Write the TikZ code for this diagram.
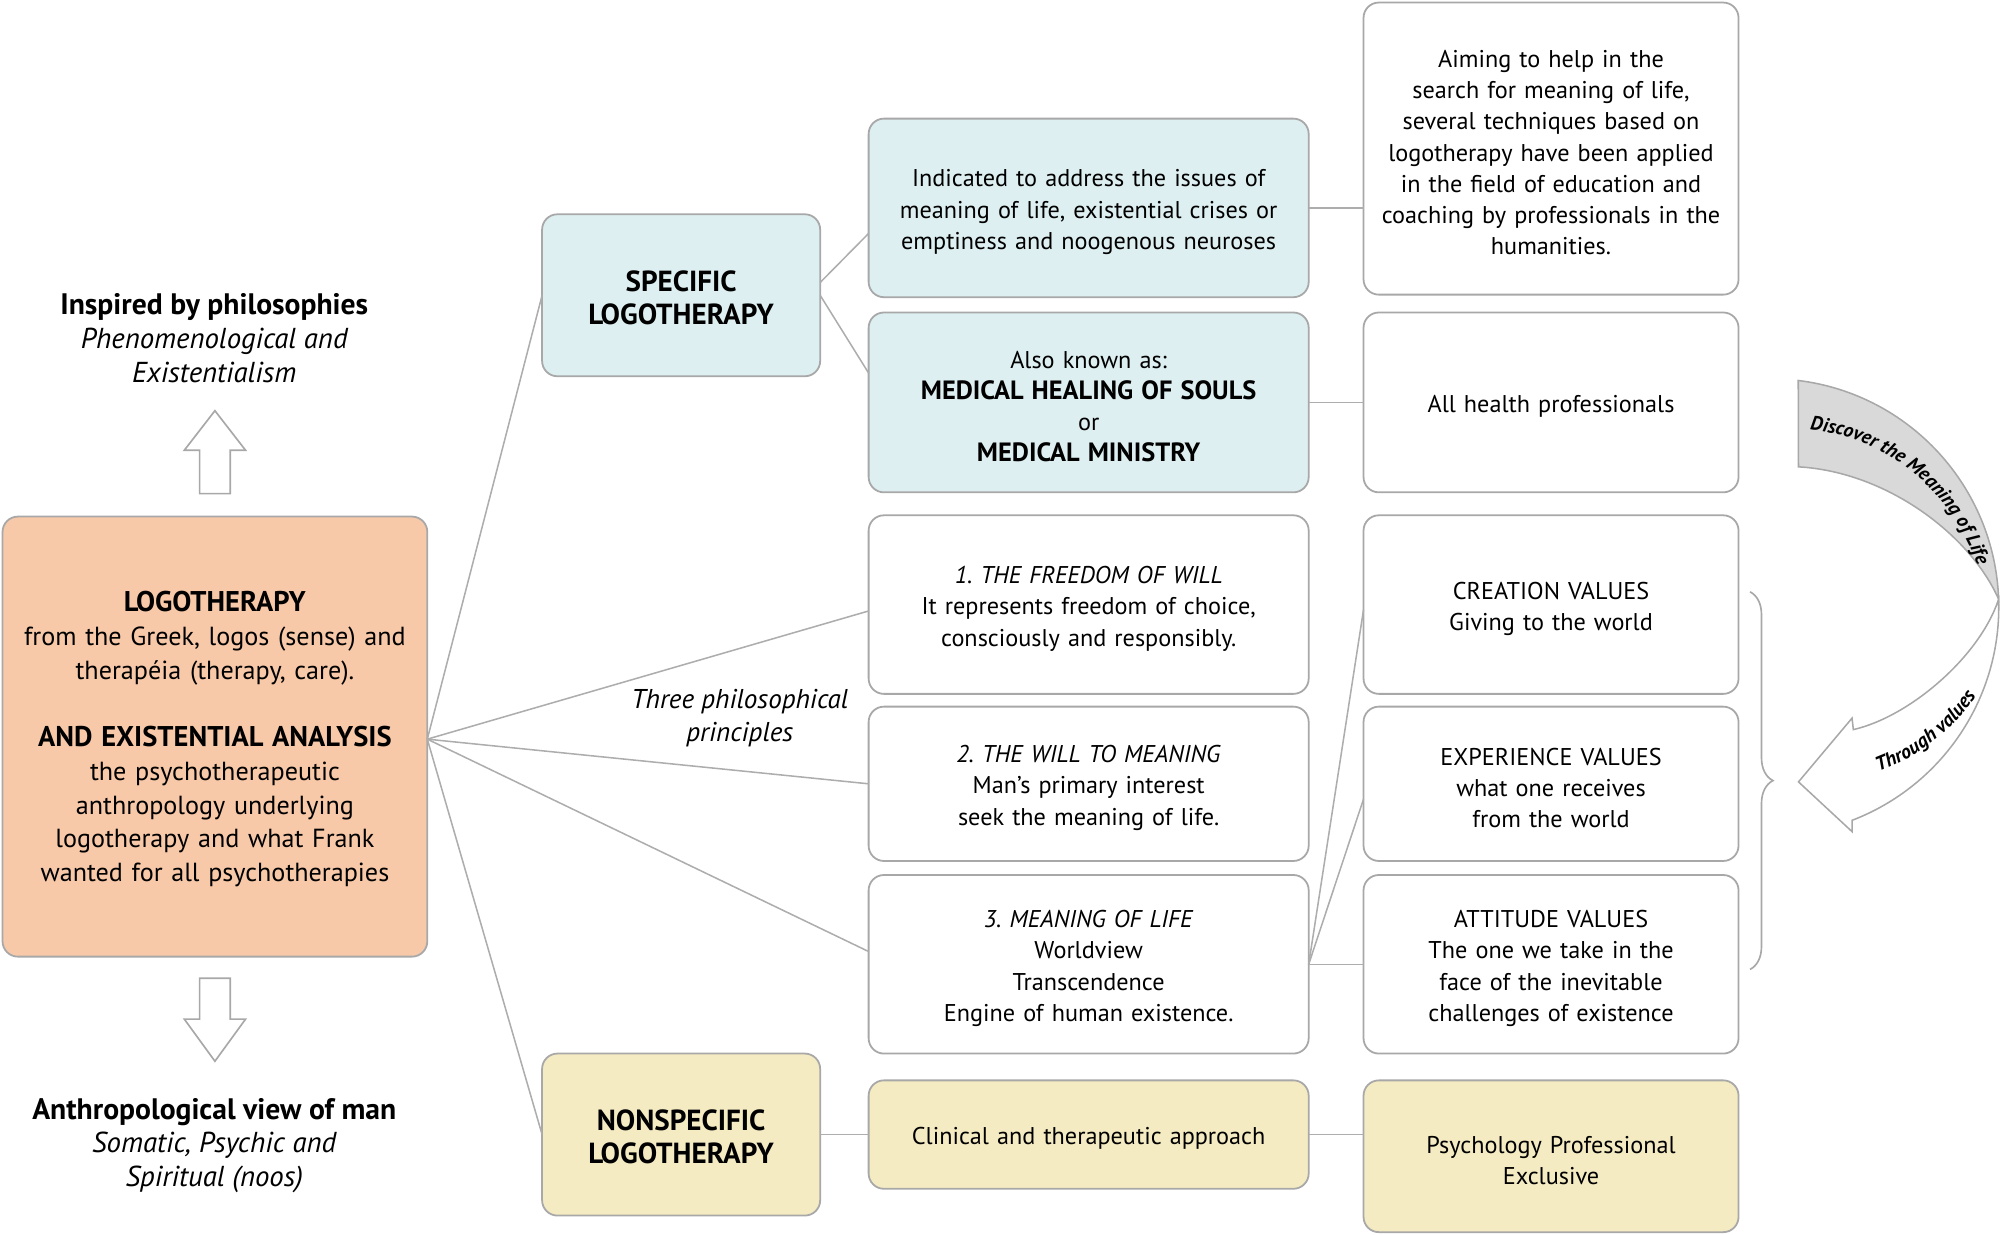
\documentclass[tikz,border=0pt]{standalone}
\usepackage{fontspec}
\setmainfont{PT Sans}[BoldFeatures={Scale=1.09}]
\frenchspacing
\usetikzlibrary{positioning,calc,decorations.pathreplacing,decorations.text}

\definecolor{boxgray}{HTML}{A8A8A8}
\definecolor{linkgray}{HTML}{ADADAD}
\definecolor{peach}{HTML}{F8C9A8}
\definecolor{paleblue}{HTML}{DDEFF1}
\definecolor{paleyellow}{HTML}{F5EBC2}
\definecolor{bandgray}{HTML}{D9D9D9}

\begin{document}
\begin{tikzpicture}[
	x = 1pt, y = -1pt, % picture coordinates, y grows downwards
	box/.style={draw=boxgray, line width=1.4pt, rounded corners=12pt, align=center, inner sep=0pt, outer sep=0pt, execute at begin node={\rule{0pt}{20pt}}, font=\fontsize{19}{24.5}\selectfont},
	plain/.style={box, fill=white},
	blue/.style={box, fill=paleblue},
	yellow/.style={box, fill=paleyellow},
	col2/.style={minimum width=218pt, text width=208pt, minimum height=127pt, font=\bfseries\fontsize{20.9}{26}\selectfont},
	col3/.style={minimum width=345pt, text width=335pt},
	col4/.style={minimum width=294pt, text width=284pt},
	note/.style={align=center, font=\fontsize{21.3}{26.4}\selectfont},
	link/.style={draw=linkgray, line width=1.2pt},
	hollow/.style={draw=boxgray, line width=1.3pt, fill=white, line join=miter},
	]
	\useasboundingbox (0,0) rectangle (1568,968);

	% Left column
	\node[box, fill=peach, minimum width=333pt, minimum height=345pt, text width=320pt, font=\fontsize{20.5}{26.4}\selectfont] (logo) at (168.5,577.5)
		{\textbf{LOGOTHERAPY}\\from the Greek, logos (sense) and\\therapéia (therapy, care).\\[26.4pt]
		 \textbf{AND EXISTENTIAL ANALYSIS}\\the psychotherapeutic\\anthropology underlying\\logotherapy and what Frank\\wanted for all psychotherapies};
	\node[note] (inspired) at (168,265) {\textbf{Inspired by philosophies}\\{\itshape\fontsize{22.6}{26.4}\selectfont Phenomenological and}\\{\itshape\fontsize{22.6}{26.4}\selectfont Existentialism}};
	\node[note] (anthro) at (168,898) {\textbf{Anthropological view of man}\\{\itshape\fontsize{22.6}{26.4}\selectfont Somatic, Psychic and}\\{\itshape\fontsize{22.6}{26.4}\selectfont Spiritual (noos)}};
	% hollow block arrows
	\draw[hollow] ($(logo.north)+(-12,-18)$) -- ++(0,-34) -- ++(-12,0) -- ++(24,-31) -- ++(24,31) -- ++(-12,0) -- ++(0,34) -- cycle;
	\draw[hollow] ($(logo.south)+(-12,17)$) -- ++(0,32) -- ++(-12,0) -- ++(24,33) -- ++(24,-33) -- ++(-12,0) -- ++(0,-32) -- cycle;

	% Two kinds of logotherapy
	\node[blue, col2] (spec) at (534,231.5) {SPECIFIC\\LOGOTHERAPY};
	\node[yellow, col2] (nonspec) at (534,889.5) {NONSPECIFIC\\LOGOTHERAPY};
	\node[note, font=\itshape\fontsize{21.3}{26}\selectfont] (three) at (580,563) {Three philosophical\\principles};

	% Third column
	\node[blue, col3, minimum height=140pt] (issues) at (853.5,163) {Indicated to address the issues of\\meaning of life, existential crises or\\emptiness and noogenous neuroses};
	\node[blue, col3, minimum height=141pt, below=12pt of issues] (known) {Also known as:\\\textbf{MEDICAL HEALING OF SOULS}\\or\\\textbf{MEDICAL MINISTRY}};
	\node[plain, col3, minimum height=140pt, below=18pt of known] (freedom) {\textit{1. THE FREEDOM OF WILL}\\It represents freedom of choice,\\consciously and responsibly.};
	\node[plain, col3, minimum height=121pt, below=10pt of freedom] (will) {\textit{2. THE WILL TO MEANING}\\Man's primary interest\\seek the meaning of life.};
	\node[plain, col3, minimum height=140pt, below=11pt of will] (meaning) {\textit{3. MEANING OF LIFE}\\Worldview\\Transcendence\\Engine of human existence.};
	\node[yellow, col3, minimum height=85pt, below=21pt of meaning] (clinical) {Clinical and therapeutic approach};

	% Fourth column
	\node[plain, col4, minimum height=229pt] (aiming) at (1216,116.5) {Aiming to help in the\\search for meaning of life,\\several techniques based on\\logotherapy have been applied\\in the field of education and\\coaching by professionals in the\\humanities.};
	\node[plain, col4, minimum height=141pt, right=43pt of known] (health) {All health professionals};
	\node[plain, col4, minimum height=140pt, right=43pt of freedom] (creation) {CREATION VALUES\\Giving to the world};
	\node[plain, col4, minimum height=121pt, right=43pt of will] (experience) {EXPERIENCE VALUES\\what one receives\\from the world};
	\node[plain, col4, minimum height=140pt, right=43pt of meaning] (attitude) {ATTITUDE VALUES\\The one we take in the\\face of the inevitable\\challenges of existence};
	\node[yellow, col4, minimum height=119pt, below=21pt of attitude] (psych) {Psychology Professional\\Exclusive};

	% Connectors
	\coordinate (hub) at ($(logo.east)+(0,2)$);
	\draw[link] (hub) -- (spec.west);
	\draw[link] (hub) -- (nonspec.west);
	\draw[link] (hub) -- ($(freedom.west)+(0,5)$);
	\draw[link] (hub) -- (will.west);
	\draw[link] (hub) -- ($(meaning.west)+(0,-10)$);
	\draw[link] ($(spec.east)+(0,-10)$) -- ($(issues.west)+(0,20)$);
	\draw[link] (spec.east) -- ($(known.west)+(0,-23)$);
	\draw[link] (nonspec.east) -- (clinical.west);
	\draw[link] (issues.east) -- (issues.east -| aiming.west);
	\draw[link] (known.east) -- (health.west);
	\draw[link] (meaning.east) -- ($(creation.west)+(0,4)$);
	\draw[link] (meaning.east) -- ($(experience.west)+(0,12)$);
	\draw[link] (meaning.east) -- (attitude.west);
	\draw[link] (clinical.east) -- (clinical.east -| psych.west);

	% Brace over the three values
	\draw[boxgray, line width=1.3pt, decorate, decoration={brace, amplitude=18pt}] ($(creation.east)+(9,-10)$) -- ($(attitude.east)+(9,4)$);

	% Curved arrow
	\filldraw[fill=bandgray, draw=boxgray, line width=1.2pt] (1409.8,298.3) .. controls (1497.2,309) and (1563.8,381.8) .. (1566.9,469.8)
		.. controls (1545,420) and (1480,370) .. (1410,366) -- cycle;
	\filldraw[fill=white, draw=boxgray, line width=1.2pt, line join=miter] (1566.9,469.8) .. controls (1569.6,546.2) and (1523.4,615.7) .. (1452.1,643.1)
		-- (1452,652) -- (1410,613) -- (1452,563) -- (1453,572) .. controls (1497,562) and (1552,515) .. (1566.9,469.8) -- cycle;
	\path[decorate, decoration={text along path, text align=left, text={|\bfseries\itshape\fontsize{15.4}{16}\selectfont|Discover the Meaning of Life}}]
		(1419,337) .. controls (1488,344) and (1540,394) .. (1558,468);
	\path[decorate, decoration={text along path, text align=center, text={|\bfseries\itshape\fontsize{15.6}{16}\selectfont|Through values}}]
		(1461,609) .. controls (1500,597) and (1534,573) .. (1556,535);

\end{tikzpicture}
\end{document}
